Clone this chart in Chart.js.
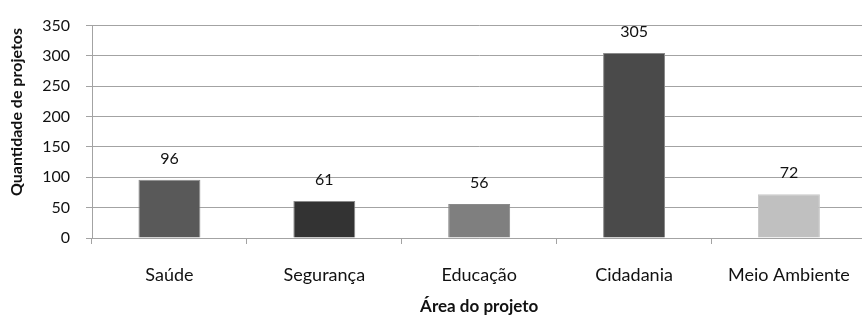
<!DOCTYPE html>
<html>
<head>
<meta charset="utf-8">
<script src="https://cdn.jsdelivr.net/npm/chart.js@4.4.1/dist/chart.umd.min.js"></script>
<style>
html,body{margin:0;padding:0;background:#fff;overflow:hidden;}
#wrap{width:862px;height:320px;overflow:hidden;position:relative;}
#inner{width:870px;height:320px;}
</style>
</head>
<body>
<div id="wrap"><div id="inner"><canvas id="c" width="870" height="320"></canvas></div></div>
<script>
const categories = ["Saúde", "Segurança", "Educação", "Cidadania", "Meio Ambiente"];
const values = [96, 61, 56, 305, 72];
const barColors = ["#595959", "#333333", "#7f7f7f", "#4a4a4a", "#c0c0c0"];
const yTitle = "Quantidade de projetos";
const xTitle = "Área do projeto";

const FONT = "Lato, 'Open Sans', 'Liberation Sans', sans-serif";
const GRID = "#a3a3a3";

const labelPlugin = {
  id: "valueLabels",
  afterDatasetsDraw(chart) {
    const ctx = chart.ctx;
    const meta = chart.getDatasetMeta(0);
    ctx.save();
    ctx.font = "16px " + FONT;
    ctx.fillStyle = "#111111";
    ctx.textAlign = "center";
    ctx.textBaseline = "middle";
    meta.data.forEach((bar, i) => {
      ctx.fillText(String(values[i]), bar.x, bar.y - 21);
    });
    ctx.restore();
  }
};

const titlePlugin = {
  id: "axisTitles",
  afterDraw(chart) {
    const ctx = chart.ctx;
    const a = chart.chartArea;
    ctx.save();
    ctx.fillStyle = "#111111";
    ctx.textAlign = "center";
    ctx.textBaseline = "middle";
    ctx.font = "bold 17px " + FONT;
    ctx.fillText(xTitle, (a.left + a.right) / 2, 307);
    ctx.translate(17, 112);
    ctx.rotate(-Math.PI / 2);
    ctx.font = "bold 16px " + FONT;
    ctx.fillText(yTitle, 0, 0);
    ctx.restore();
  }
};

new Chart(document.getElementById("c"), {
  type: "bar",
  data: {
    labels: categories,
    datasets: [{
      data: values,
      backgroundColor: barColors,
      borderColor: barColors.map(c => c === "#c0c0c0" ? "#c8c8c8" : "#8a8a8a"),
      borderWidth: 1,
      barPercentage: 0.4,
      categoryPercentage: 1
    }]
  },
  options: {
    responsive: false,
    animation: false,
    devicePixelRatio: 1,
    layout: { padding: { top: 23, right: 2, left: 0, bottom: 0 } },
    plugins: { legend: { display: false }, tooltip: { enabled: false } },
    scales: {
      x: {
        afterFit(s) { s.height = 82; },
        grid: { display: true, offset: true, drawOnChartArea: false, drawTicks: true, tickLength: 6, color: GRID },
        border: { display: true, color: GRID },
        ticks: { color: "#111111", font: { family: FONT, size: 18 }, padding: 20, maxRotation: 0, autoSkip: false }
      },
      y: {
        min: 0, max: 350,
        afterFit(s) { s.width = 92; },
        grid: { color: GRID, lineWidth: 1, drawTicks: true, tickLength: 6 },
        border: { display: true, color: GRID },
        ticks: { stepSize: 50, color: "#111111", font: { family: FONT, size: 16 }, padding: 16 }
      }
    }
  },
  plugins: [labelPlugin, titlePlugin]
});
</script>
</body>
</html>
